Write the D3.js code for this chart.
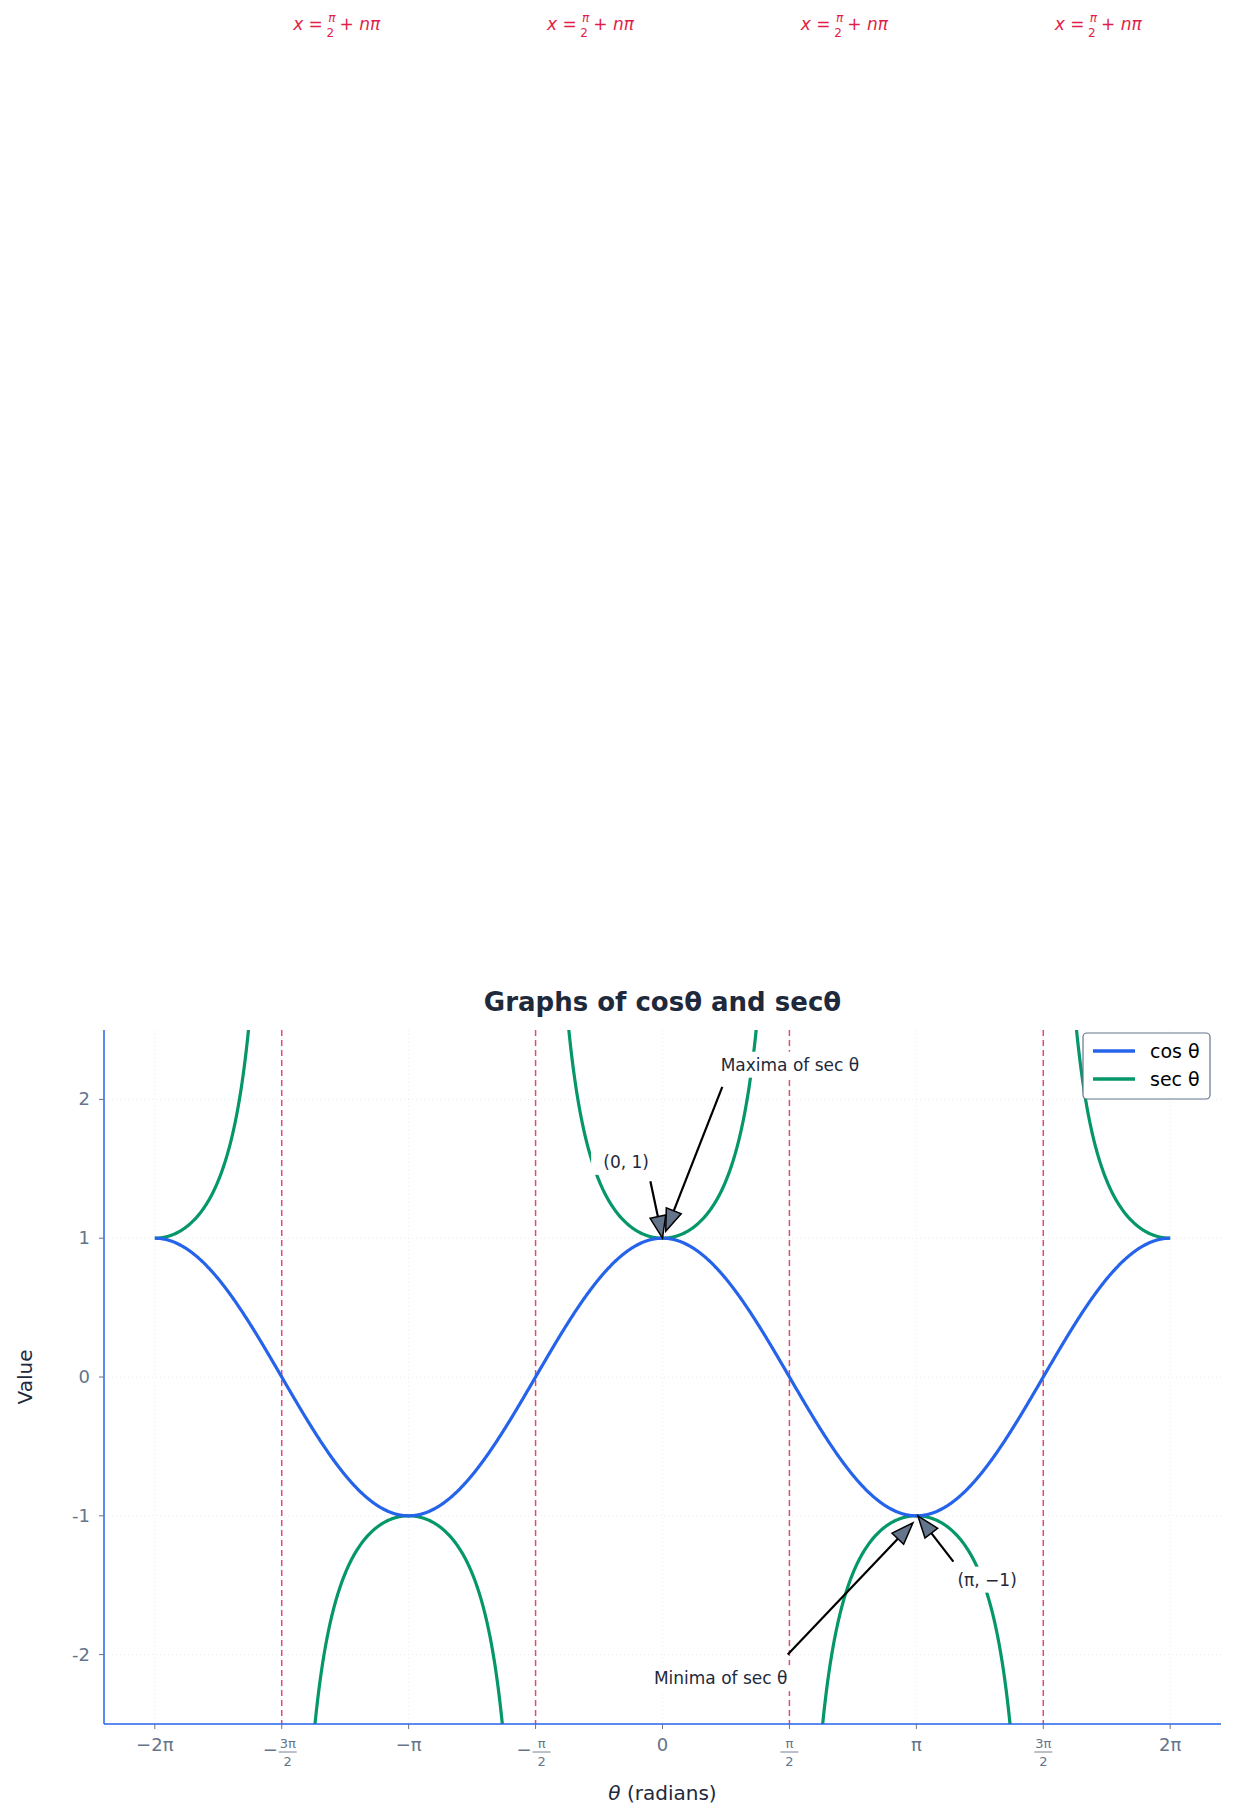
<!DOCTYPE html>
<html><head><meta charset="utf-8">
<script src="https://cdn.jsdelivr.net/npm/d3@7"></script>
<style>body{margin:0;background:#fff}text{font-family:"DejaVu Sans",sans-serif}</style>
</head><body><svg id="c" width="1244" height="1820"></svg>
<script>
const PI = Math.PI;
const xTicks = [-2*PI,-1.5*PI,-PI,-0.5*PI,0,0.5*PI,PI,1.5*PI,2*PI];
const xTickLabels = [["−2π"],["−","3π","2"],["−π"],["−","π","2"],["0"],["","π","2"],["π"],["","3π","2"],["2π"]];
const yTicks = [2,1,0,-1,-2];
const yTickLabels = ["2","1","0","-1","-2"];
const asymptotes = [-1.5*PI,-0.5*PI,0.5*PI,1.5*PI];
const topLabelX = [-1.5*PI+0.68,-0.5*PI+0.68,0.5*PI+0.68,1.5*PI+0.68];
const sampleCount = 2000;

const svg = d3.select("#c");
const L=104,R=1221,T=1030,B=1724;
const x = d3.scaleLinear().domain([-2*PI-0.2*PI, 2*PI+0.2*PI]).range([L,R]);
x.domain([-6.912,6.912]);
const y = d3.scaleLinear().domain([-2.5,2.5]).range([B,T]);
const blue="#2563eb", green="#059669", red="#e11d48", grey="#64748b", dark="#1e293b";

// grid
const g = svg.append("g");
xTicks.forEach(t=>g.append("line").attr("x1",x(t)).attr("x2",x(t)).attr("y1",T).attr("y2",B).attr("stroke","#e5e7eb").attr("stroke-dasharray","1,3").attr("stroke-width",0.8));
yTicks.forEach(t=>g.append("line").attr("y1",y(t)).attr("y2",y(t)).attr("x1",L).attr("x2",R).attr("stroke","#e5e7eb").attr("stroke-dasharray","1,3").attr("stroke-width",0.8));

// asymptotes
asymptotes.forEach(a=>svg.append("line").attr("x1",x(a)).attr("x2",x(a)).attr("y1",T).attr("y2",B).attr("stroke",red).attr("stroke-opacity",0.8).attr("stroke-width",1.5).attr("stroke-dasharray","6,4"));
topLabelX.forEach(v=>{
  const tx=svg.append("text").attr("x",x(v)).attr("y",30).attr("fill",red).attr("font-size",17).attr("text-anchor","middle");
  tx.append("tspan").attr("font-style","italic").text("x");
  tx.append("tspan").text(" = ");
  tx.append("tspan").attr("font-size",12).attr("dy",-8).attr("font-style","italic").text("π");
  tx.append("tspan").text("").attr("dy",0);
  tx.append("tspan").attr("font-size",12).attr("dx",-9).attr("dy",15).text("2");
  tx.append("tspan").attr("dy",-7).text(" + ");
  tx.append("tspan").attr("font-style","italic").text("nπ");
});

const clip = svg.append("clipPath").attr("id","pc").append("rect").attr("x",L).attr("y",T).attr("width",R-L).attr("height",B-T);
const xs = d3.range(sampleCount+1).map(i=>-2*PI+4*PI*i/sampleCount);
const cosPts = xs.map(v=>[v,Math.cos(v)]);
const line = d3.line().x(d=>x(d[0])).y(d=>y(d[1]));
const secLine = d3.line().defined(d=>Math.abs(d[1])<6).x(d=>x(d[0])).y(d=>y(Math.max(-6,Math.min(6,d[1]))));
const secPts = xs.map(v=>{const c=Math.cos(v);return [v, Math.abs(c)<1e-3?NaN:1/c];});
const pg = svg.append("g").attr("clip-path","url(#pc)");
pg.append("path").datum(secPts).attr("d",secLine).attr("fill","none").attr("stroke",green).attr("stroke-width",3.2);
pg.append("path").datum(cosPts).attr("d",line).attr("fill","none").attr("stroke",blue).attr("stroke-width",3.2);

// axes
svg.append("line").attr("x1",L).attr("x2",L).attr("y1",T).attr("y2",B).attr("stroke",blue).attr("stroke-width",1.5);
svg.append("line").attr("x1",L).attr("x2",R).attr("y1",B).attr("y2",B).attr("stroke",blue).attr("stroke-width",1.5);
xTicks.forEach((t,i)=>{
  svg.append("line").attr("x1",x(t)).attr("x2",x(t)).attr("y1",B).attr("y2",B+5).attr("stroke",grey);
  const lab=xTickLabels[i];
  if(lab.length===1){
    svg.append("text").attr("x",x(t)).attr("y",B+27).attr("text-anchor","middle").attr("fill",grey).attr("font-size",18).text(lab[0]);
  } else {
    const cx=x(t)+(lab[0]?6:0);
    if(lab[0]) svg.append("text").attr("x",cx-10).attr("y",B+32).attr("text-anchor","end").attr("fill",grey).attr("font-size",18).text(lab[0]);
    svg.append("text").attr("x",cx).attr("y",B+24).attr("text-anchor","middle").attr("fill",grey).attr("font-size",13).text(lab[1]);
    svg.append("line").attr("x1",cx-9).attr("x2",cx+9).attr("y1",B+28).attr("y2",B+28).attr("stroke",grey).attr("stroke-width",0.9);
    svg.append("text").attr("x",cx).attr("y",B+42).attr("text-anchor","middle").attr("fill",grey).attr("font-size",13).text(lab[2]);
  }
});
yTicks.forEach((t,i)=>{
  svg.append("line").attr("x1",L-5).attr("x2",L).attr("y1",y(t)).attr("y2",y(t)).attr("stroke",grey);
  svg.append("text").attr("x",L-14).attr("y",y(t)+6).attr("text-anchor","end").attr("fill",grey).attr("font-size",18).text(yTickLabels[i]);
});
const xl=svg.append("text").attr("x",(L+R)/2).attr("y",1800).attr("text-anchor","middle").attr("fill",dark).attr("font-size",20);
xl.append("tspan").attr("font-style","italic").text("θ");xl.append("tspan").text(" (radians)");
svg.append("text").attr("transform",`translate(32,${(T+B)/2}) rotate(-90)`).attr("text-anchor","middle").attr("fill",dark).attr("font-size",20).text("Value");
svg.append("text").attr("x",(L+R)/2).attr("y",1011).attr("text-anchor","middle").attr("fill",dark).attr("font-size",26).attr("font-weight","bold").text("Graphs of cosθ and secθ");

// annotations
const defs=svg.append("defs");
function arrow(x0,y0,x1,y1){
  const px0=x(x0),py0=y(y0),px1=x(x1),py1=y(y1);
  const ang=Math.atan2(py1-py0,px1-px0), len=Math.hypot(px1-px0,py1-py0);
  const hl=22, hw=8;
  const bx=px1-hl*Math.cos(ang), by=py1-hl*Math.sin(ang);
  svg.append("line").attr("x1",px0).attr("y1",py0).attr("x2",bx).attr("y2",by).attr("stroke","#000").attr("stroke-width",2.2);
  const nx=-Math.sin(ang)*hw, ny=Math.cos(ang)*hw;
  svg.append("polygon").attr("points",`${px1},${py1} ${bx+nx},${by+ny} ${bx-nx},${by-ny}`).attr("fill","#64748b").attr("stroke","#000").attr("stroke-width",1.5);
}
function label(xv,yv,txt,anchor,bg){
  if(bg){const w=txt.length*10+10;const bx=anchor==="middle"?x(xv)-w/2:x(xv)-5;
    svg.append("rect").attr("x",bx).attr("y",y(yv)-13).attr("width",w).attr("height",26).attr("fill","#fff");}
  svg.append("text").attr("x",x(xv)).attr("y",y(yv)+6).attr("text-anchor",anchor).attr("fill",dark).attr("font-size",17).text(txt);
}
arrow(0.74,2.09,0.04,1.05);
arrow(-0.15,1.41,0,1.0);
arrow(1.55,-2.0,3.1,-1.05);
arrow(3.6,-1.33,3.16,-1.0);
label(0.72,2.25,"Maxima of sec θ","start",true);
label(-0.45,1.55,"(0, 1)","middle",true);
label(0.72,-2.17,"Minima of sec θ","middle",true);
label(3.65,-1.46,"(π, −1)","start",true);

// legend
const lg=svg.append("g");
lg.append("rect").attr("x",1083).attr("y",1033).attr("width",127).attr("height",66).attr("rx",4).attr("fill","#fff").attr("stroke","#64748b").attr("stroke-width",1.2);
[["cos θ",blue],["sec θ",green]].forEach((d,i)=>{
  lg.append("line").attr("x1",1093).attr("x2",1135).attr("y1",1051+i*28).attr("y2",1051+i*28).attr("stroke",d[1]).attr("stroke-width",3.5);
  lg.append("text").attr("x",1150).attr("y",1058+i*28).attr("font-size",19).attr("fill","#000").text(d[0]);
});
</script></body></html>
